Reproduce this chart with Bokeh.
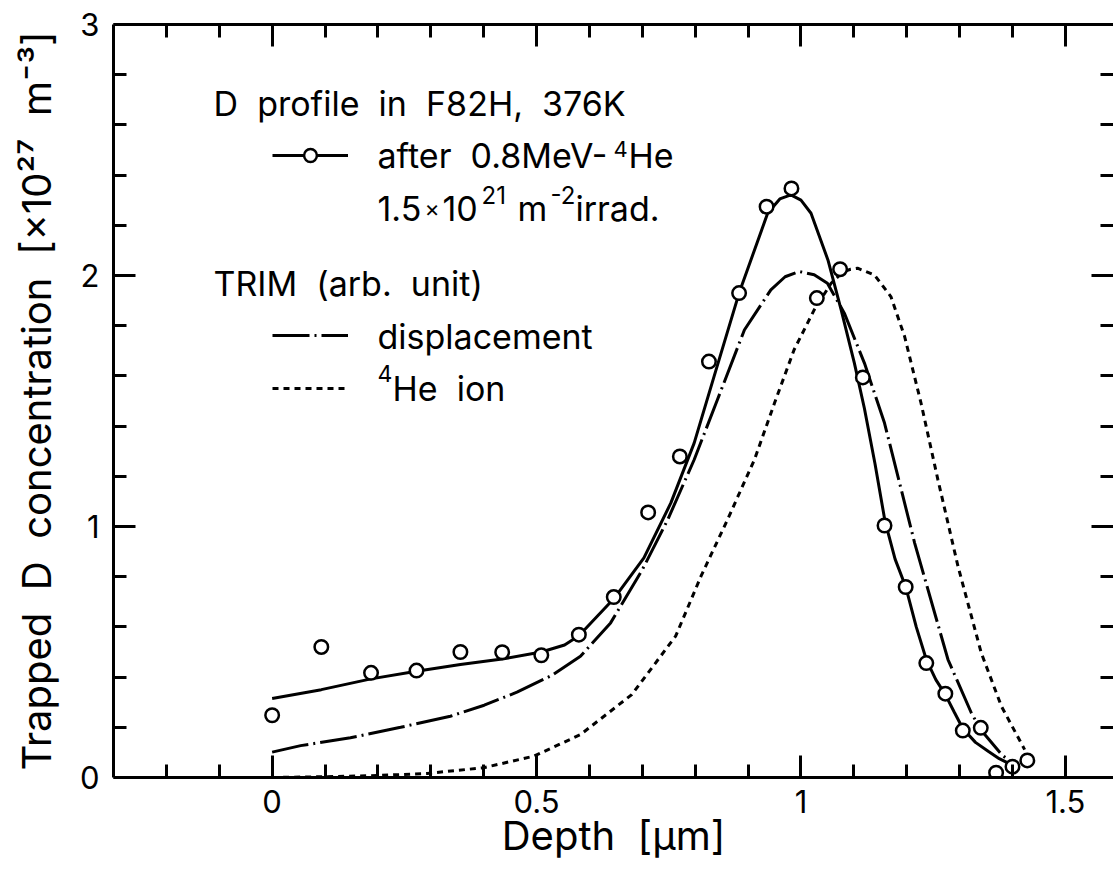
from bokeh.plotting import figure
from bokeh.models import Range1d, LinearAxis, FixedTicker, Label, Legend, LegendItem
from bokeh.embed import file_html
from bokeh.resources import INLINE

FONT = "Inter"
NB = "\u00a0\u00a0"   # wide (double) word gap as in the reference

# ---------------- data ----------------
x_major_ticks = [0, 0.5, 1, 1.5]
x_tick_labels = ["0", "0.5", "1", "1.5"]
x_minor_ticks = [-0.2, -0.1, 0.1, 0.2, 0.3, 0.4, 0.6, 0.7, 0.8, 0.9, 1.1, 1.2, 1.3, 1.4]
y_major_ticks = [0, 1, 2, 3]
y_tick_labels = ["0", "1", "2", "3"]
y_minor_ticks = [0.2, 0.4, 0.6, 0.8, 1.2, 1.4, 1.6, 1.8, 2.2, 2.4, 2.6, 2.8]

# measured trapped D (circles)
depth_meas = [0.0, 0.093, 0.187, 0.273, 0.356, 0.435, 0.509, 0.580, 0.646, 0.711,
              0.771, 0.826, 0.883, 0.935, 0.982, 1.030, 1.074, 1.117, 1.158, 1.198,
              1.237, 1.273, 1.306, 1.340, 1.369, 1.400, 1.428]
conc_meas = [0.248, 0.520, 0.417, 0.426, 0.500, 0.499, 0.487, 0.569, 0.719, 1.056,
             1.279, 1.657, 1.930, 2.274, 2.347, 1.910, 2.025, 1.594, 1.004, 0.759,
             0.456, 0.334, 0.187, 0.198, 0.019, 0.043, 0.068]

# fitted solid curve through the measured profile
fit_depth = [0.0, 0.093, 0.187, 0.273, 0.356, 0.435, 0.509, 0.553, 0.580, 0.646,
             0.703, 0.754, 0.798, 0.836, 0.883, 0.937, 0.960, 0.981, 1.000, 1.019,
             1.051, 1.076, 1.101, 1.120, 1.140, 1.159, 1.178, 1.198, 1.218, 1.237,
             1.255, 1.273, 1.290, 1.306, 1.330, 1.354, 1.375, 1.391, 1.400]
fit_conc = [0.315, 0.350, 0.393, 0.423, 0.450, 0.472, 0.500, 0.528, 0.565, 0.712,
            0.875, 1.094, 1.332, 1.600, 1.930, 2.248, 2.305, 2.321, 2.300, 2.248,
            2.062, 1.863, 1.651, 1.470, 1.250, 1.020, 0.870, 0.760, 0.600, 0.470,
            0.390, 0.330, 0.260, 0.195, 0.140, 0.105, 0.075, 0.058, 0.045]

# TRIM displacement profile (dash-dot)
disp_depth = [0.0, 0.054, 0.148, 0.243, 0.337, 0.401, 0.463, 0.528, 0.583, 0.640,
              0.700, 0.748, 0.798, 0.842, 0.893, 0.943, 0.970, 0.997, 1.025, 1.050,
              1.082, 1.120, 1.158, 1.215, 1.278, 1.322, 1.340, 1.380, 1.410]
disp_val = [0.101, 0.127, 0.158, 0.200, 0.244, 0.288, 0.340, 0.406, 0.483, 0.616,
            0.828, 1.027, 1.266, 1.505, 1.783, 1.943, 1.995, 2.016, 2.003, 1.969,
            1.850, 1.651, 1.412, 0.934, 0.470, 0.258, 0.190, 0.090, 0.040]

# TRIM 4He ion profile (dotted)
he_depth = [0.0, 0.1, 0.2, 0.293, 0.400, 0.495, 0.583, 0.680, 0.763, 0.811, 0.861,
            0.912, 0.950, 0.987, 1.025, 1.057, 1.080, 1.094, 1.107, 1.139, 1.170,
            1.196, 1.227, 1.259, 1.297, 1.341, 1.379, 1.423]
he_val = [0.0, 0.003, 0.008, 0.016, 0.039, 0.085, 0.171, 0.330, 0.563, 0.802, 1.027,
          1.266, 1.492, 1.704, 1.863, 1.969, 2.015, 2.025, 2.029, 2.002, 1.916,
          1.757, 1.492, 1.186, 0.841, 0.496, 0.284, 0.111]

# ---------------- figure ----------------
W, H = 1113, 876
p = figure(width=W, height=H, x_range=Range1d(-0.3, 1.591), y_range=Range1d(0, 3),
           output_backend="svg", toolbar_location=None,
           min_border_left=113, min_border_right=0, min_border_top=24, min_border_bottom=99)
p.grid.visible = False
p.outline_line_color = None
p.background_fill_color = "white"
p.border_fill_color = "white"

p.add_layout(LinearAxis(), "above")
p.add_layout(LinearAxis(), "right")

for ax in p.xaxis:
    ax.ticker = FixedTicker(ticks=x_major_ticks, minor_ticks=x_minor_ticks)
    ax.major_label_overrides = {t: s for t, s in zip(x_major_ticks, x_tick_labels)}
for ax in p.yaxis:
    ax.ticker = FixedTicker(ticks=y_major_ticks, minor_ticks=y_minor_ticks)
    ax.major_label_overrides = {t: s for t, s in zip(y_major_ticks, y_tick_labels)}
for ax in p.axis:
    ax.axis_line_width = 3
    ax.axis_line_color = "black"
    ax.major_tick_in = 22
    ax.major_tick_out = 0
    ax.minor_tick_in = 13
    ax.minor_tick_out = 0
    ax.major_tick_line_width = 3
    ax.minor_tick_line_width = 3
    ax.major_tick_line_color = "black"
    ax.minor_tick_line_color = "black"
    ax.major_label_text_font = FONT
    ax.major_label_text_font_size = "31px"
    ax.major_label_text_color = "black"

bx, lx = p.below[0], p.left[0]
bx.major_label_standoff = 12
lx.major_label_standoff = 14
bx.axis_label = "Depth" + NB + "[μm]"
bx.axis_label_text_font = FONT
bx.axis_label_text_font_size = "40px"
bx.axis_label_text_font_style = "normal"
bx.axis_label_text_color = "black"
bx.axis_label_standoff = -5
lx.axis_label = "Trapped" + NB + "D" + NB + "concentration" + NB + "[×10²⁷" + NB + "m⁻³]"
lx.axis_label_text_font = FONT
lx.axis_label_text_font_size = "40px"
lx.axis_label_text_font_style = "normal"
lx.axis_label_text_color = "black"
lx.axis_label_standoff = 16

for ax in (p.above[0], p.right[0]):
    ax.major_label_text_font_size = "1px"
    ax.major_label_text_color = None
    ax.major_label_standoff = 0
p.right[0].axis_line_color = None

# ---------------- curves and points ----------------
he_r = p.line(he_depth, he_val, line_width=3, line_color="black", line_dash="6 5")
disp_r = p.line(disp_depth, disp_val, line_width=3, line_color="black", line_dash="37 5 2 5")
fit_r = p.line(fit_depth, fit_conc, line_width=3, line_color="black")
pts_r = p.scatter(depth_meas, conc_meas, marker="circle", size=13.5, fill_color="white",
                  line_color="black", line_width=2.5)

# ---------------- legend ----------------
def sample(renderers, loc):
    lg = Legend(items=[LegendItem(label=" ", renderers=renderers)], location=loc,
                border_line_color=None, background_fill_alpha=0, padding=0, margin=0,
                spacing=0, glyph_width=76, glyph_height=32, label_standoff=0,
                label_width=0, label_height=0, label_text_font_size="1px",
                label_text_color=None)
    p.add_layout(lg)

sample([fit_r, pts_r], (159, 606))
sample([disp_r], (159, 426))
sample([he_r], (159, 373))

def txt(x, y, s, size):
    p.add_layout(Label(x=x, y=y, x_units="screen", y_units="screen", text=s,
                       text_font=FONT, text_font_size=f"{size}px", text_color="black",
                       text_baseline="alphabetic", text_align="left"))

LS = 34
D = 12  # baseline correction
txt(100, 662 + D, "D" + NB + "profile" + NB + "in" + NB + "F82H," + NB + "376K", LS)
txt(264, 610 + D, "after" + NB + "0.8MeV-", LS)
txt(500, 617 + D, "4", 22)
txt(515, 610 + D, "He", LS)
txt(264, 557 + D, "1.5", LS)
txt(311, 557 + D, "×", 23)
txt(329, 557 + D, "10", LS)
txt(368, 571 + D, "21", 24)
txt(404, 557 + D, "m", LS)
txt(437, 571 + D, "-2", 24)
txt(462, 557 + D, "irrad.", LS)
txt(100, 482 + D, "TRIM" + NB + "(arb." + NB + "unit)", LS)
txt(264, 429 + D, "displacement", LS)
txt(264, 392 + D, "4", 23)
txt(279, 377 + D, "He" + NB + "ion", LS)

open("out.html", "w").write(file_html(p, INLINE))
